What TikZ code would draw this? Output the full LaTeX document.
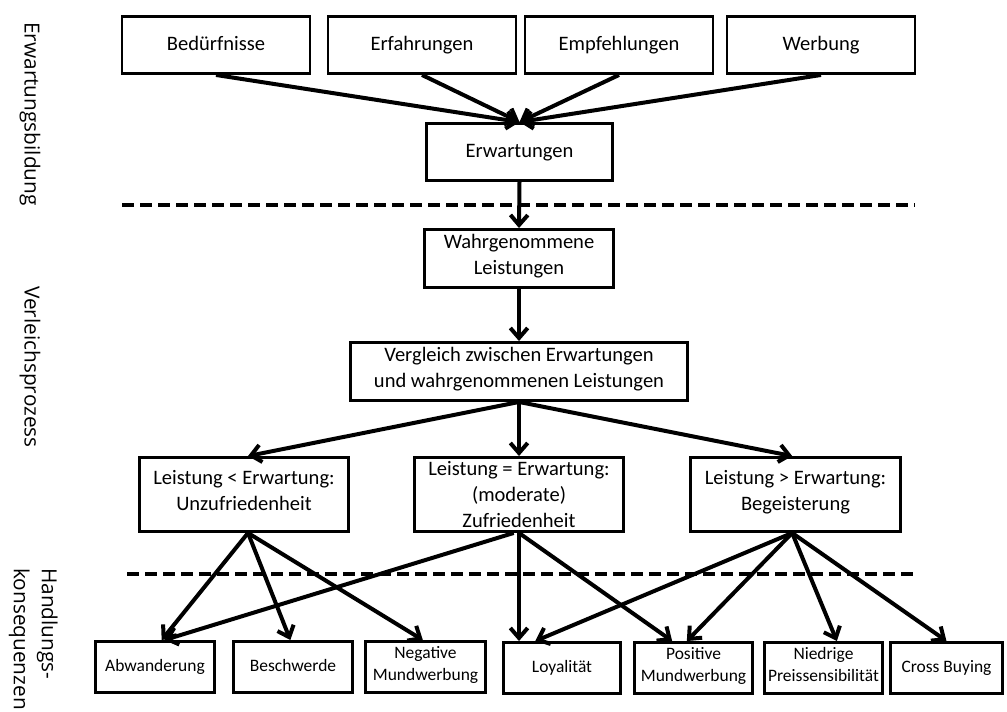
\documentclass[tikz,border=0pt]{standalone}
\usepackage{fontspec}
\setmainfont{Carlito}
\newfontfamily\sidefont{Open Sans}
\usetikzlibrary{arrows.meta}
\begin{document}
\begin{tikzpicture}[x=0.75pt,y=-0.75pt,
  plainbox/.style={draw, line width=2.2pt, rectangle, align=center, inner sep=0pt, font=\fontsize{15.4}{19.5}\selectfont},
  box/.style={plainbox, font=\fontsize{15.4}{20}\selectfont, execute at begin node=\strut, execute at end node=\strut},
  sbox/.style={draw, line width=2.2pt, rectangle, align=center, inner sep=0pt, minimum height=38.25pt, font=\fontsize{13.1}{16.5}\selectfont, execute at begin node=\strut, execute at end node=\strut},
  arr/.style={line width=3pt, -{Straight Barb[length=7.5pt,width=13pt]}},
  sep/.style={line width=2.3pt, dash pattern=on 9pt off 4.5pt},
  side/.style={rotate=-90, font=\sidefont\fontsize{15.6}{21}\selectfont, inner sep=0pt}
]
\useasboundingbox (0,0) rectangle (1007,711);

% side labels
\node[side] (l1) at (30,114) {Erwartungsbildung};
\node[side] (l2) at (30,367) {Verleichsprozess};
\node[side, anchor=north west, align=left] (l3) at (58,568) {Handlungs-\\konsequenzen};

% top row
\node[box, minimum width=141pt, minimum height=42.75pt] (bed) at (216,45) {Bedürfnisse};
\node[box, minimum width=141pt, minimum height=42.75pt] (erf) at (422,45) {Erfahrungen};
\node[box, minimum width=141pt, minimum height=42.75pt] (emp) at (619,45) {Empfehlungen};
\node[box, minimum width=141pt, minimum height=42.75pt] (werb) at (821,45) {Werbung};

\node[box, minimum width=139.5pt, minimum height=42.75pt] (erw) at (519.5,152) {Erwartungen};
\node[box, minimum width=141.75pt, minimum height=43.5pt] (wahr) at (519,258.5) {Wahrgenommene\\Leistungen};
\node[box, minimum width=252.75pt, minimum height=43.5pt] (verg) at (519,371.5) {Vergleich zwischen Erwartungen\\und wahrgenommenen Leistungen};

\node[box, minimum width=156.75pt, minimum height=55.5pt] (unzu) at (244,494.5) {Leistung < Erwartung:\\Unzufriedenheit};
\node[plainbox, minimum width=156.75pt, minimum height=55.5pt] (zuf) at (519,494.5) {Leistung = Erwartung:\\(moderate)\\Zufriedenheit};
\node[box, minimum width=157.5pt, minimum height=55.5pt] (beg) at (795.5,494.5) {Leistung > Erwartung:\\Begeisterung};

% bottom row
\node[sbox, minimum width=89.25pt] (abw) at (155,667) {Abwanderung};
\node[sbox, minimum width=89.25pt] (besch) at (293,667) {Beschwerde};
\node[sbox, minimum width=90pt] (neg) at (425.5,667) {Negative\\Mundwerbung};
\node[sbox, minimum width=87.75pt] (loy) at (562,668) {Loyalität};
\node[sbox, minimum width=88.5pt] (pos) at (693.5,668) {Positive\\Mundwerbung};
\node[sbox, minimum width=88.5pt] (nied) at (823.5,668) {Niedrige\\Preissensibilität};
\node[sbox, minimum width=84pt] (cross) at (946.5,668) {Cross Buying};

% dashed separators
\coordinate (s1a) at (122,205); \coordinate (s1b) at (915,205);
\coordinate (s2a) at (127,574); \coordinate (s2b) at (918,574);
\draw[sep] (s1a) -- (s1b);
\draw[sep] (s2a) -- (s2b);

% arrows top
\draw[arr] (bed.south) -- (erw.north);
\draw[arr] (erf.south) -- (erw.north);
\draw[arr] (emp.south) -- (erw.north);
\draw[arr] (werb.south) -- (erw.north);
\draw[arr] (erw.south) -- (wahr.north);
\draw[arr] (wahr.south) -- (verg.north);
\draw[arr] (verg.south) -- ([xshift=3pt]unzu.north);
\draw[arr] (verg.south) -- (zuf.north);
\draw[arr] (verg.south) -- ([xshift=-2.5pt]beg.north);

% arrows bottom
\draw[arr] ([xshift=3pt]unzu.south) -- ([xshift=5pt]abw.north);
\draw[arr] ([xshift=3pt]unzu.south) -- ([xshift=-2pt]besch.north);
\draw[arr] ([xshift=3pt]unzu.south) -- ([xshift=-2pt]neg.north);
\draw[arr] ([xshift=-4pt]zuf.south) -- ([xshift=7pt]abw.north);
\draw[arr] (zuf.south) -- (zuf.south |- loy.north);
\draw[arr] (zuf.south) -- ([xshift=-16pt]pos.north);
\draw[arr] ([xshift=-2.5pt]beg.south) -- ([xshift=-20pt]loy.north);
\draw[arr] ([xshift=-2.5pt]beg.south) -- ([xshift=-5pt]pos.north);
\draw[arr] ([xshift=-2.5pt]beg.south) -- ([xshift=10pt]nied.north);
\draw[arr] ([xshift=-2.5pt]beg.south) -- (cross.north);
\end{tikzpicture}
\end{document}
